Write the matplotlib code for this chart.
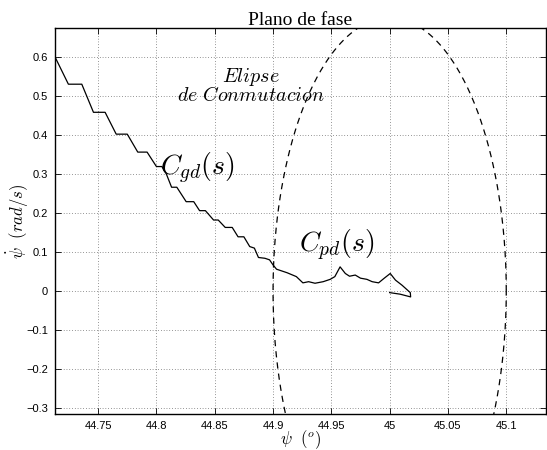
import numpy as np
import matplotlib
matplotlib.use("Agg")
import matplotlib.pyplot as plt

plt.rcParams["mathtext.fontset"] = "cm"

# Trajectory (psi in degrees, psi_dot in rad/s)
psi = [44.713, 44.7245, 44.736, 44.746, 44.756, 44.7655, 44.775, 44.784, 44.792,
       44.800, 44.8047, 44.8085, 44.813, 44.8175, 44.8255, 44.832, 44.837, 44.842,
       44.849, 44.853, 44.859, 44.865, 44.870, 44.875, 44.880, 44.884, 44.8875,
       44.893, 44.897, 44.900, 44.903, 44.912, 44.920, 44.9256, 44.9305, 44.936,
       44.943, 44.949, 44.953, 44.9575, 44.962, 44.9656, 44.9705, 44.975, 44.9805,
       44.985, 44.9905, 44.9954, 45.0005, 45.005, 45.0106, 45.0177, 45.018,
       45.009, 45.000]
psidot = [0.600, 0.530, 0.530, 0.458, 0.458, 0.402, 0.402, 0.356, 0.356,
          0.319, 0.319, 0.300, 0.266, 0.266, 0.229, 0.229, 0.206, 0.206,
          0.182, 0.182, 0.163, 0.163, 0.139, 0.139, 0.114, 0.110, 0.086,
          0.084, 0.080, 0.067, 0.056, 0.047, 0.037, 0.021, 0.024, 0.020,
          0.024, 0.030, 0.037, 0.062, 0.045, 0.038, 0.041, 0.033, 0.030,
          0.024, 0.021, 0.033, 0.045, 0.028, 0.015, -0.004, -0.015,
          -0.008, -0.004]

# Switching ellipse parameters
ell_center = (45.0, 0.0)
ell_axes = (0.1, 0.7)

xticks = [44.75, 44.8, 44.85, 44.9, 44.95, 45.0, 45.05, 45.1]
xticklabels = ["44.75", "44.8", "44.85", "44.9", "44.95", "45", "45.05", "45.1"]
yticks = [-0.3, -0.2, -0.1, 0.0, 0.1, 0.2, 0.3, 0.4, 0.5, 0.6]
yticklabels = ["\u22120.3", "\u22120.2", "\u22120.1", "0", "0.1", "0.2", "0.3", "0.4", "0.5", "0.6"]

fig = plt.figure(figsize=(5.47, 4.5), dpi=100)
ax = fig.add_axes([0.1005, 0.08, 0.8975, 0.8578])

t = np.linspace(0, 2 * np.pi, 800)
ex = ell_center[0] + ell_axes[0] * np.cos(t)
ey = ell_center[1] + ell_axes[1] * np.sin(t)
ax.plot(ex, ey, color="black", linestyle=(0, (5, 4)), linewidth=0.9)

ax.plot(psi, psidot, color="black", linewidth=0.9)

ax.set_xlim(44.713, 45.134)
ax.set_ylim(-0.315, 0.674)
ax.set_xticks(xticks)
ax.set_xticklabels(xticklabels)
ax.set_yticks(yticks)
ax.set_yticklabels(yticklabels)
ax.tick_params(direction="in", top=True, right=True, length=4, width=0.6,
               labelsize=8, pad=5)
for lab in ax.get_xticklabels() + ax.get_yticklabels():
    lab.set_family("Liberation Sans")
ax.grid(True, linestyle=(0, (1, 3)), color="black", linewidth=0.5, alpha=0.8)
for sp in ax.spines.values():
    sp.set_linewidth(1.0)

ax.set_title("Plano de fase", family="Liberation Serif", fontsize=14, pad=2)
ax.set_xlabel(r"$\psi\ \ (^o)$", fontsize=12, va="center")
ax.xaxis.set_label_coords(0.5, -0.066)
ax.set_ylabel(r"$\dot{\psi}\ \ (rad/s)$", fontsize=12, va="center")
ax.yaxis.set_label_coords(-0.076, 0.5)

ax.text(44.803, 0.297, r"$C_{gd}(s)$", fontsize=20, ha="left", va="baseline")
ax.text(44.9225, 0.100, r"$C_{pd}(s)$", fontsize=20, ha="left", va="baseline")
ax.text(44.881, 0.527, "$Elipse$\n$de\\ Conmutacion$", fontsize=14.5,
        ha="center", va="center", linespacing=0.85)

fig.savefig("out.png", dpi=100)
